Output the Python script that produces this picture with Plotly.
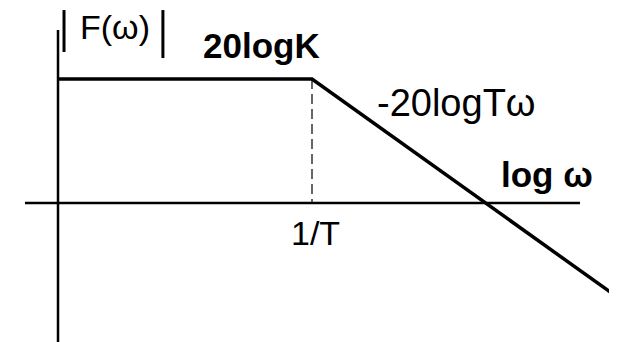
import plotly.graph_objects as go

# log(omega) positions: origin, corner 1/T, end of sketch
log_w = [0, 1, 2.185]
# magnitude in units of 20logK
mag = [1, 1, -0.734]

# axis extents
x_axis = [-0.13, 2.055]
y_axis = [1.395, -1.2]

corner = log_w[1]

fig = go.Figure()

# horizontal axis
fig.add_trace(go.Scatter(x=x_axis, y=[0, 0], mode="lines",
                         line=dict(color="black", width=2.5)))
# vertical axis
fig.add_trace(go.Scatter(x=[0, 0], y=y_axis, mode="lines",
                         line=dict(color="black", width=2.5)))
# dashed drop at 1/T
fig.add_trace(go.Scatter(x=[corner, corner], y=[mag[1], 0], mode="lines",
                         line=dict(color="black", width=1.2, dash="10px,5px")))
# asymptotic magnitude
fig.add_trace(go.Scatter(x=log_w, y=mag, mode="lines",
                         line=dict(color="black", width=3.5)))

# tall magnitude bars around the F(ω) label
for x0, y0, y1 in [(0.0236, 1.556, 1.218), (0.413, 1.556, 1.169)]:
    fig.add_shape(type="line", xref="x", yref="y", x0=x0, x1=x0, y0=y0, y1=y1,
                  line=dict(color="black", width=3))

labels = [
    ("F(ω)", 0.225, 1.42, 34, False),
    ("20logK", 0.803, 1.274, 35, True),
    ("-20logTω", 1.567, 0.806, 38, False),
    ("log ω", 1.925, 0.226, 35, True),
    ("1/T", 1.012, -0.242, 34, False),
]
for txt, x, y, size, bold in labels:
    fig.add_annotation(x=x, y=y, text=("<b>%s</b>" % txt) if bold else txt,
                       showarrow=False, xanchor="center", yanchor="middle",
                       font=dict(family="Liberation Sans, Arial", size=size, color="black"))

# page body adds an 8px margin, so ranges are set to land the sketch where it belongs
fig.update_layout(
    width=617, height=342,
    margin=dict(l=0, r=0, t=0, b=0),
    paper_bgcolor="white", plot_bgcolor="white",
    showlegend=False,
    xaxis=dict(range=[-0.1969, 2.2323], visible=False),
    yaxis=dict(range=[-1.1855, 1.5726], visible=False),
)

fig.write_html("out.html")
